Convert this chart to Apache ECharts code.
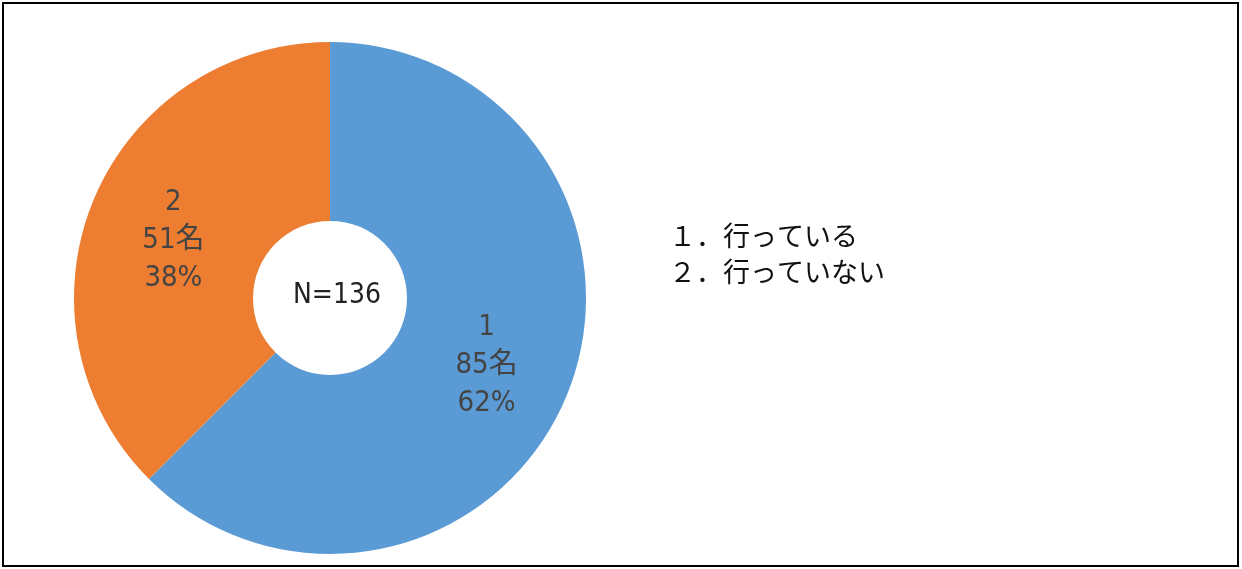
<!DOCTYPE html>
<html><head><meta charset="utf-8">
<script src="https://cdn.jsdelivr.net/npm/echarts@6/dist/echarts.min.js"></script>
<style>html,body{margin:0;padding:0;background:#fff}#c{width:1242px;height:569px}</style>
</head><body><div id="c"></div>
<script>
const categories = ['1', '2'];
const legendNames = ['１．行っている', '２．行っていない'];
const counts = [85, 51];
const pctLabels = ['62%', '38%'];
const unit = '名';
const centerText = 'N=136';
const colors = ['#5B9BD5', '#ED7D31'];

const narrow = '"Liberation Sans Narrow", "DejaVu Sans Condensed", "Noto Sans CJK JP", sans-serif';
const labelOffsets = [[0, 3], [0, 7]];
const chart = echarts.init(document.getElementById('c'));
chart.setOption({
  animation: false,
  color: colors,
  legend: {
    orient: 'vertical', left: 659, top: 213, icon: 'none', itemWidth: 0, itemHeight: 0, itemGap: 0,
    selectedMode: false,
    textStyle: { fontFamily: 'Noto Sans CJK JP', fontSize: 27, color: '#111', lineHeight: 36 },
    data: legendNames
  },
  graphic: [
    { type: 'rect', shape: { x: 3, y: 3, width: 1235, height: 563 }, style: { fill: 'none', stroke: '#000', lineWidth: 2 }, z: 100 },
    { type: 'text', x: 337, y: 296, style: { text: centerText, fontFamily: narrow, fontSize: 28, fill: '#222', align: 'center', verticalAlign: 'middle' }, z: 100 }
  ],
  series: [{
    type: 'pie', center: [330, 298], radius: [77, 256], startAngle: 90, clockwise: true,
    avoidLabelOverlap: false,
    label: {
      position: 'inside', fontFamily: narrow, fontSize: 29, color: '#444', lineHeight: 38,
      formatter: p => categories[p.dataIndex] + '\n' + counts[p.dataIndex] + unit + '\n' + pctLabels[p.dataIndex]
    },
    labelLine: { show: false },
    itemStyle: { borderWidth: 0 },
    emphasis: { disabled: true },
    data: counts.map((v, i) => ({ name: legendNames[i], value: v, label: { offset: labelOffsets[i] } }))
  }]
});
</script></body></html>
